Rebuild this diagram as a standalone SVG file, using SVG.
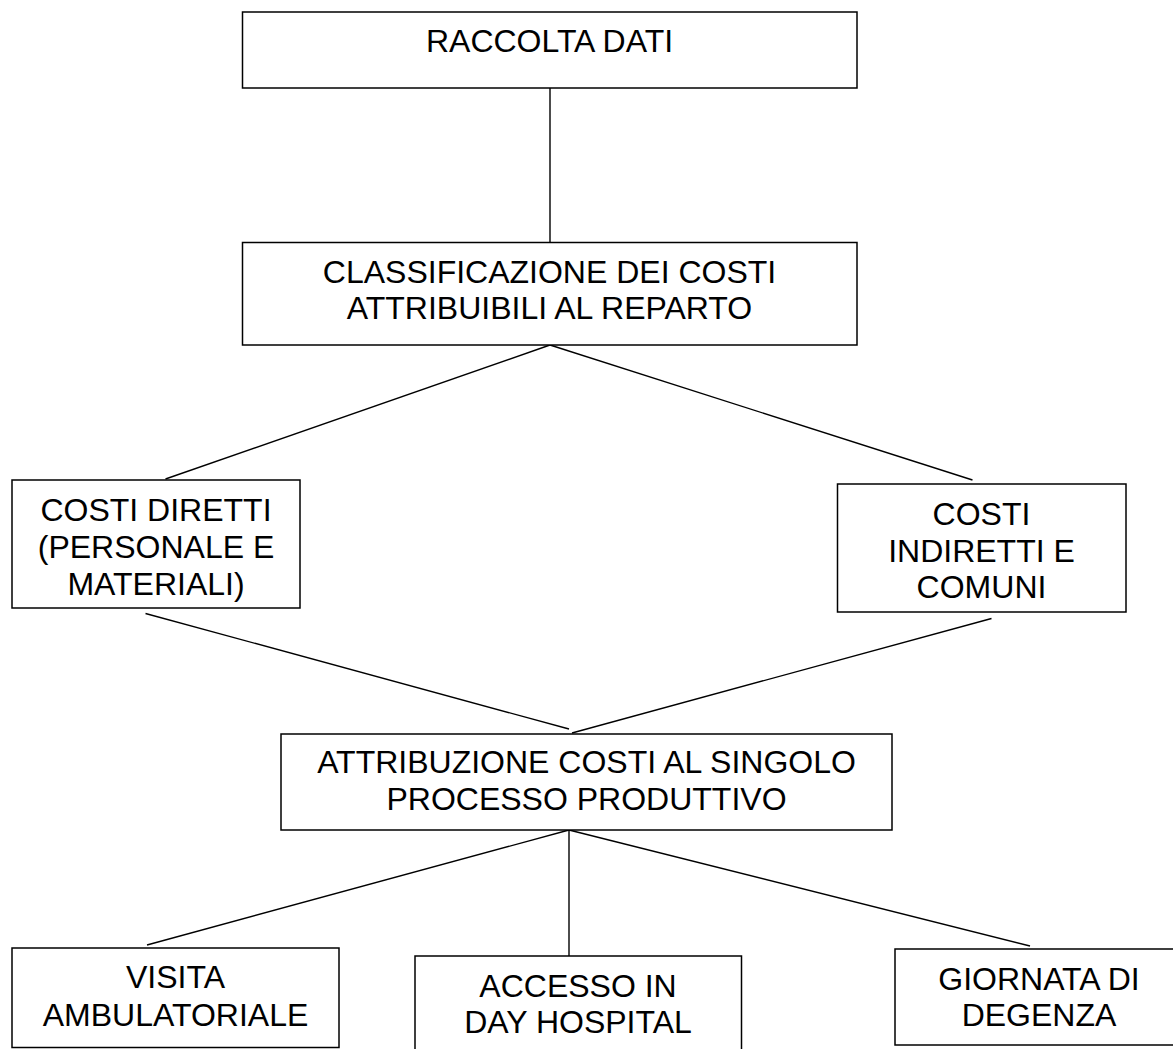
<svg xmlns="http://www.w3.org/2000/svg" width="1173" height="1049" viewBox="0 0 1173 1049">
<style>
.box{fill:#fff;stroke:#000;stroke-width:1.5}
.t{font-family:"Liberation Sans",Arial,sans-serif;font-size:32px;fill:#000;text-anchor:middle}
.c{stroke:#000;stroke-width:1.4;fill:none}
</style>
<rect width="1173" height="1049" fill="#fff"/>
<g id="connectors">
<line class="c" x1="550" y1="88" x2="550" y2="242"/>
<line class="c" x1="550" y1="345" x2="165.5" y2="479"/>
<line class="c" x1="550" y1="345" x2="972.5" y2="480"/>
<line class="c" x1="145.5" y1="613.5" x2="569" y2="729"/>
<line class="c" x1="991.5" y1="618.5" x2="572" y2="733"/>
<line class="c" x1="569" y1="830" x2="147" y2="945"/>
<line class="c" x1="569" y1="822" x2="569" y2="956"/>
<line class="c" x1="569" y1="830" x2="1030" y2="946"/>
</g>
<g id="n1">
<rect class="box" x="242.5" y="12" width="614.5" height="76"/>
<text class="t" x="549.5" y="52">RACCOLTA DATI</text>
</g>
<g id="n2">
<rect class="box" x="242.5" y="242.5" width="614.5" height="102.5"/>
<text class="t" x="549.5" y="283">CLASSIFICAZIONE DEI COSTI</text>
<text class="t" x="549.5" y="318.5">ATTRIBUIBILI AL REPARTO</text>
</g>
<g id="n3">
<rect class="box" x="12" y="480" width="288" height="128"/>
<text class="t" x="156" y="521">COSTI DIRETTI</text>
<text class="t" x="156" y="558">(PERSONALE E</text>
<text class="t" x="156" y="595">MATERIALI)</text>
</g>
<g id="n4">
<rect class="box" x="837.5" y="484" width="288.5" height="128"/>
<text class="t" x="981.5" y="525">COSTI</text>
<text class="t" x="981.5" y="561.5">INDIRETTI E</text>
<text class="t" x="981.5" y="598">COMUNI</text>
</g>
<g id="n5">
<rect class="box" x="281" y="734" width="611" height="96"/>
<text class="t" x="586.5" y="773">ATTRIBUZIONE COSTI AL SINGOLO</text>
<text class="t" x="586.5" y="810">PROCESSO PRODUTTIVO</text>
</g>
<g id="n6">
<rect class="box" x="12" y="948" width="327" height="99.5"/>
<text class="t" x="175.5" y="988">VISITA</text>
<text class="t" x="175.5" y="1026">AMBULATORIALE</text>
</g>
<g id="n7">
<rect class="box" x="415" y="956" width="326.5" height="110"/>
<text class="t" x="578" y="997">ACCESSO IN</text>
<text class="t" x="578" y="1033">DAY HOSPITAL</text>
</g>
<g id="n8">
<rect class="box" x="895" y="949" width="290" height="96"/>
<text class="t" x="1039" y="990">GIORNATA DI</text>
<text class="t" x="1039" y="1026">DEGENZA</text>
</g>
</svg>
